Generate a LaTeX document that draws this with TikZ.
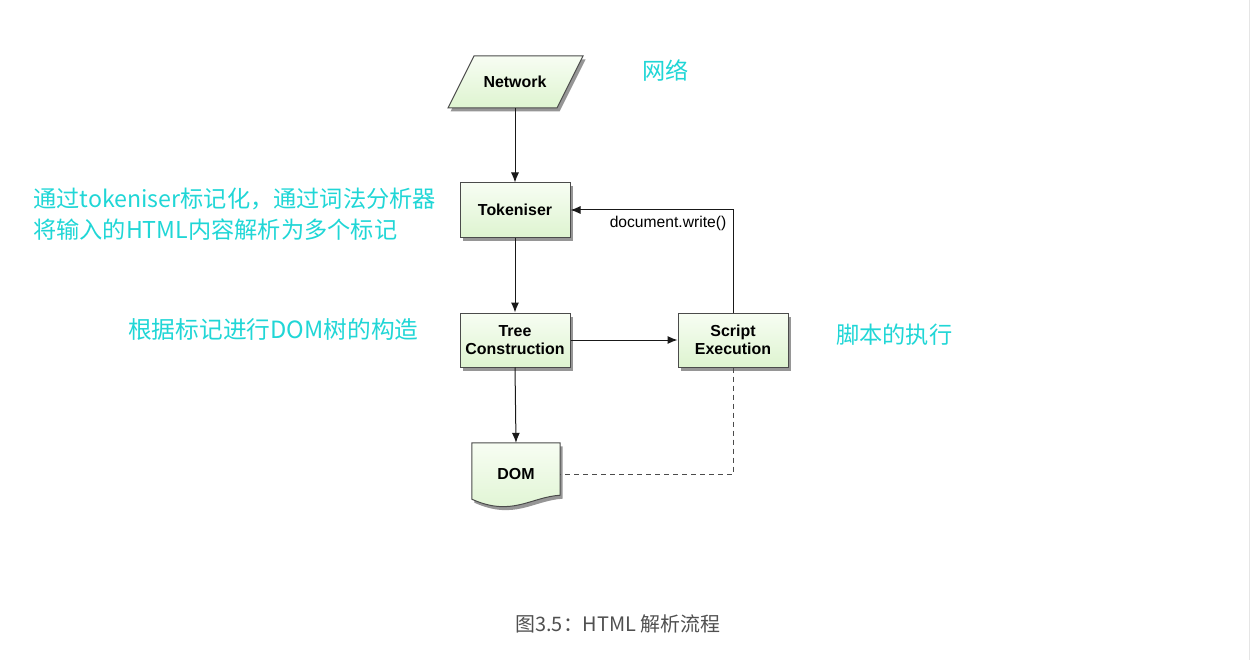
\documentclass[tikz,border=0pt]{standalone}
\usepackage{fontspec}
\setmainfont{Liberation Sans}
\newfontfamily\cjk{Noto Sans CJK SC}
\usetikzlibrary{arrows.meta,shadows,backgrounds,calc}
\definecolor{anno}{RGB}{32,214,214}
\definecolor{boxtop}{RGB}{247,253,243}
\definecolor{boxbot}{RGB}{222,244,208}
\definecolor{edge}{RGB}{75,75,75}
\definecolor{capc}{RGB}{80,80,80}
\tikzset{
  boxshade/.style={top color=boxtop, bottom color=boxbot, draw=edge, line width=1bp,
    drop shadow={shadow xshift=2.5bp, shadow yshift=-3.5bp, opacity=0.55, fill=black!75}},
  procbox/.style={boxshade, minimum width=110bp, minimum height=54bp, inner sep=0pt,
    align=center, font=\bfseries\fontsize{16}{18.5}\selectfont},
  plain/.style={inner sep=0pt, align=center, font=\bfseries\fontsize{16}{18.5}\selectfont},
  flow/.style={draw=black!90, line width=1bp, -{Latex[length=10bp,width=8bp]}},
  annot/.style={anchor=west, inner sep=0pt, text=anno, font=\cjk\fontsize{23.3}{27}\selectfont},
}
\begin{document}
\begin{tikzpicture}[x=1bp,y=-1bp]
\useasboundingbox (0,0) rectangle (1250,660);
\draw[black!10, line width=1bp] (1249,0) -- (1249,660);

% Network parallelogram
\coordinate (n1) at (448,108);
\coordinate (n2) at (474,56);
\coordinate (n3) at (583,56);
\coordinate (n4) at (557,108);
\path[boxshade] (n1) -- (n2) -- (n3) -- (n4) -- cycle;
\node[plain] (network) at (515,82) {Network};
\coordinate (netbot) at (515,108);

% boxes
\node[procbox] (tok) at (515,210) {Tokeniser};
\node[procbox] (tree) at (515,340) {Tree\\Construction};
\node[procbox] (script) at (733,340) {Script\\Execution};

% DOM document shape
\node[plain, minimum width=88bp, minimum height=62bp] (dom) at (516,474) {DOM};
\begin{pgfonlayer}{background}
\path[boxshade] (dom.north west) -- (dom.north east) -- ($(dom.south east)+(0,-10)$)
  .. controls ($(dom.south east)+(-30,-8)$) and ($(dom.south west)+(40,12)$) .. ($(dom.south west)+(0,-6)$) -- cycle;
\end{pgfonlayer}

% connectors
\draw[flow] (netbot) -- (tok.north);
\draw[flow] (tok.south) -- (tree.north);
\draw[flow] (tree.south) -- (dom.north);
\draw[flow] (tree.east) -- (script.west);
\draw[flow] (script.north) |- (tok.east)
  node[pos=0.70, below=6bp, inner sep=0pt, font=\fontsize{15.7}{18}\selectfont] (dw) {document.write()};
\draw[edge, line width=1bp, dash pattern=on 5bp off 4bp] (script.south) |- (dom.east);

% annotations
\node[annot] (a1) at (642,71) {网络};
\node[annot] (a2) at (33,199) {通过tokeniser标记化，通过词法分析器};
\node[annot] (a3) at (33,230) {将输入的HTML内容解析为多个标记};
\node[annot, font=\cjk\fontsize{23.8}{27}\selectfont] (a4) at (128,329) {根据标记进行DOM树的构造};
\node[annot] (a5) at (836,335) {脚本的执行};

% caption
\node[inner sep=0pt, text=capc, font=\cjk\fontsize{20}{24}\selectfont] (cap) at (618,624) {图3.5：HTML 解析流程};
\end{tikzpicture}
\end{document}
